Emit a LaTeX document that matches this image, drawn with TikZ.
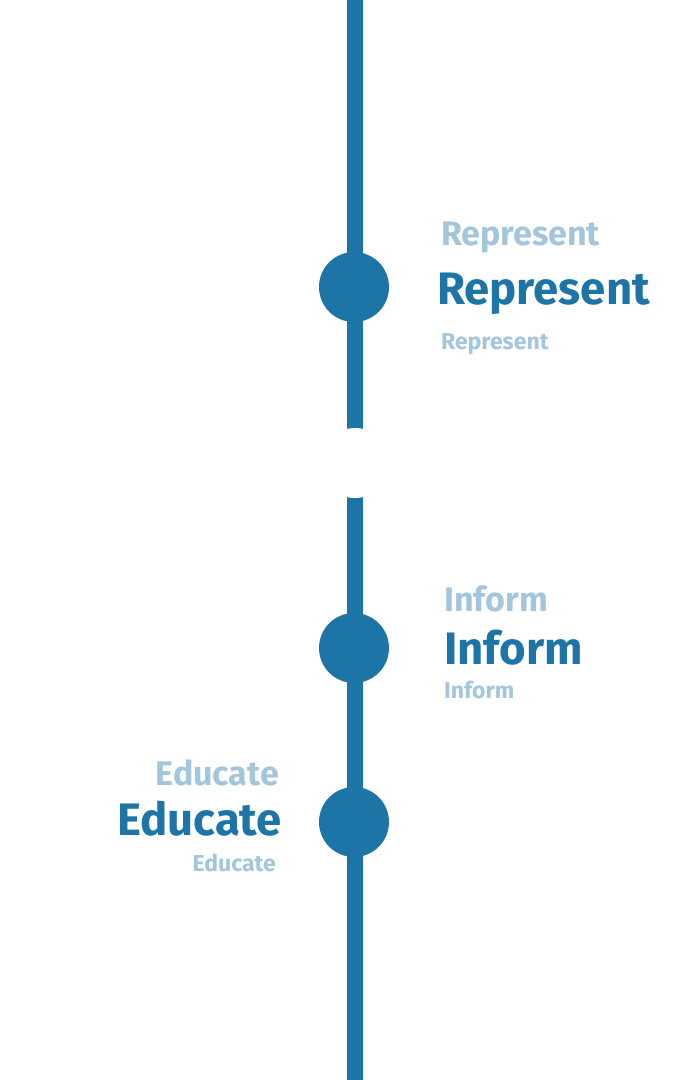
\documentclass[tikz,border=0pt]{standalone}
\usepackage{fontspec}
\setmainfont{Fira Sans}
\definecolor{lineblue}{HTML}{1D74A6}
\definecolor{fadeblue}{HTML}{A3C6DC}
\tikzset{
  big/.style={inner sep=0pt,text=lineblue,font=\bfseries\fontsize{45.5}{45.5}\selectfont},
  ghost/.style={inner sep=0pt,text=fadeblue,font=\bfseries\fontsize{34}{34}\selectfont},
  small/.style={inner sep=0pt,text=fadeblue,font=\bfseries\fontsize{23}{23}\selectfont},
  dot/.style={circle,fill=lineblue,minimum size=70pt,inner sep=0pt}
}
\begin{document}
\begin{tikzpicture}[x=1pt,y=-1pt]
      \useasboundingbox (0,0) rectangle (695,1080);
      \draw
        (355,0) coordinate (top)
        (355,1080) coordinate (bottom)
        (355,463) coordinate (gap);
      \draw[lineblue,line width=16pt] (top) -- (bottom);
      \fill[white] (gap) circle (35);
      \draw
        (354,287) node[dot] (1){}
        (354,648) node[dot] (2){}
        (354,822) node[dot] (3){};
      \begin{scope}[anchor=base west]
        \draw (441,245) node[ghost] (1a){Represent};
        \draw (437,304) node[big] (1b){Represent};
        \draw (441,349) node[small] (1c){Represent};
        \draw (444,611) node[ghost] (2a){Inform};
        \draw (444,664) node[big] (2b){Inform};
        \draw (444,698) node[small] (2c){Inform};
      \end{scope}
      \begin{scope}[anchor=base east]
        \draw (279,785) node[ghost] (3a){Educate};
        \draw (282,835) node[big] (3b){Educate};
        \draw (276,871) node[small] (3c){Educate};
      \end{scope}
    \end{tikzpicture}
\end{document}
